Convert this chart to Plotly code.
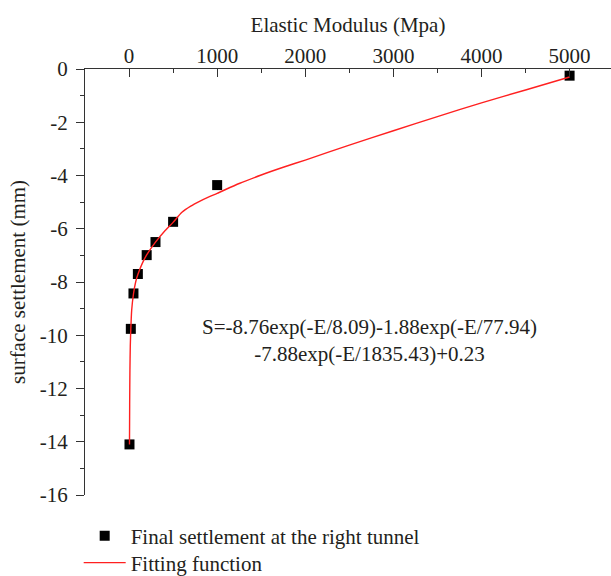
import plotly.graph_objects as go

# Data points
E_pts = [5, 20, 50, 100, 200, 300, 500, 1000, 5000]
S_pts = [-14.1, -9.76, -8.43, -7.70, -6.99, -6.50, -5.74, -4.36, -0.25]

# Fitted curve
E_fit = [5, 7, 10, 14, 20, 30, 50, 75, 100, 150, 200, 300, 400, 500, 600, 700, 800,
         900, 1000, 1250, 1500, 1750, 2000, 2500, 3000, 3500, 4000, 4500, 5000]
S_fit = [-14.1, -12.6, -11.3, -10.4, -9.76, -9.05, -8.45, -8.0, -7.72, -7.3, -6.98,
         -6.5, -6.1, -5.76, -5.38, -5.15, -4.97, -4.81, -4.67, -4.30, -3.98, -3.69,
         -3.42, -2.86, -2.32, -1.79, -1.27, -0.79, -0.3]

x_ticks = [0, 1000, 2000, 3000, 4000, 5000]
x_labels = ["0", "1000", "2000", "3000", "4000", "5000"]
y_ticks = [0, -2, -4, -6, -8, -10, -12, -14, -16]
y_labels = ["0", "-2", "-4", "-6", "-8", "-10", "-12", "-14", "-16"]

FONT = "Liberation Serif"
FS = 21
TXT = "#231f20"
AX = "#333333"

fig = go.Figure()
fig.add_trace(go.Scatter(
    x=E_pts, y=S_pts, mode="markers",
    marker=dict(symbol="square", size=10, color="black"),
    name="Final settlement at the right tunnel", legend="legend"))
fig.add_trace(go.Scatter(
    x=E_fit, y=S_fit, mode="lines",
    line=dict(color="#ff2020", width=1.4, shape="spline", smoothing=0.6),
    name="Fitting function", legend="legend2"))

fig.add_annotation(
    x=2730, y=-10.2, xref="x", yref="y",
    text="S=-8.76exp(-E/8.09)-1.88exp(-E/77.94)<br>-7.88exp(-E/1835.43)+0.23",
    showarrow=False, align="center",
    font=dict(family=FONT, size=FS, color=TXT))

leg_common = dict(xanchor="left", yanchor="middle", bgcolor="rgba(0,0,0,0)",
                  font=dict(family=FONT, size=FS, color=TXT), itemwidth=42)
fig.update_layout(
    width=611, height=576,
    margin=dict(l=85, r=0, t=69, b=81, autoexpand=False),
    paper_bgcolor="white", plot_bgcolor="white",
    font=dict(family=FONT, size=FS, color=TXT),
    showlegend=True,
    legend=dict(x=-0.012, y=-0.0962, **leg_common),
    legend2=dict(x=-0.012, y=-0.1596, **leg_common),
)
fig.update_xaxes(
    side="top", range=[-500, 5470], tickvals=x_ticks, ticktext=x_labels,
    tickfont=dict(family=FONT, size=FS, color=TXT), ticklabelstandoff=-3,
    showgrid=False, zeroline=False, showline=True, linecolor=AX, linewidth=1.2,
    ticks="inside", ticklen=8, tickcolor=AX, tickwidth=1.2,
    minor=dict(dtick=500, ticks="inside", ticklen=4, tickcolor=AX, tickwidth=1.2),
    title=dict(text="Elastic Modulus (Mpa)", standoff=5,
               font=dict(family=FONT, size=FS, color=TXT)),
)
fig.update_yaxes(
    range=[-16, 0], tickvals=y_ticks, ticktext=y_labels,
    tickfont=dict(family=FONT, size=FS, color=TXT), ticklabelstandoff=4,
    showgrid=False, zeroline=False, showline=True, linecolor=AX, linewidth=1.2,
    ticks="outside", ticklen=8, tickcolor=AX, tickwidth=1.2,
    minor=dict(dtick=1, ticks="outside", ticklen=4, tickcolor=AX, tickwidth=1.2),
    title=dict(text="surface settlement (mm)", standoff=8,
               font=dict(family=FONT, size=FS, color=TXT)),
)

fig.write_html("out.html")
